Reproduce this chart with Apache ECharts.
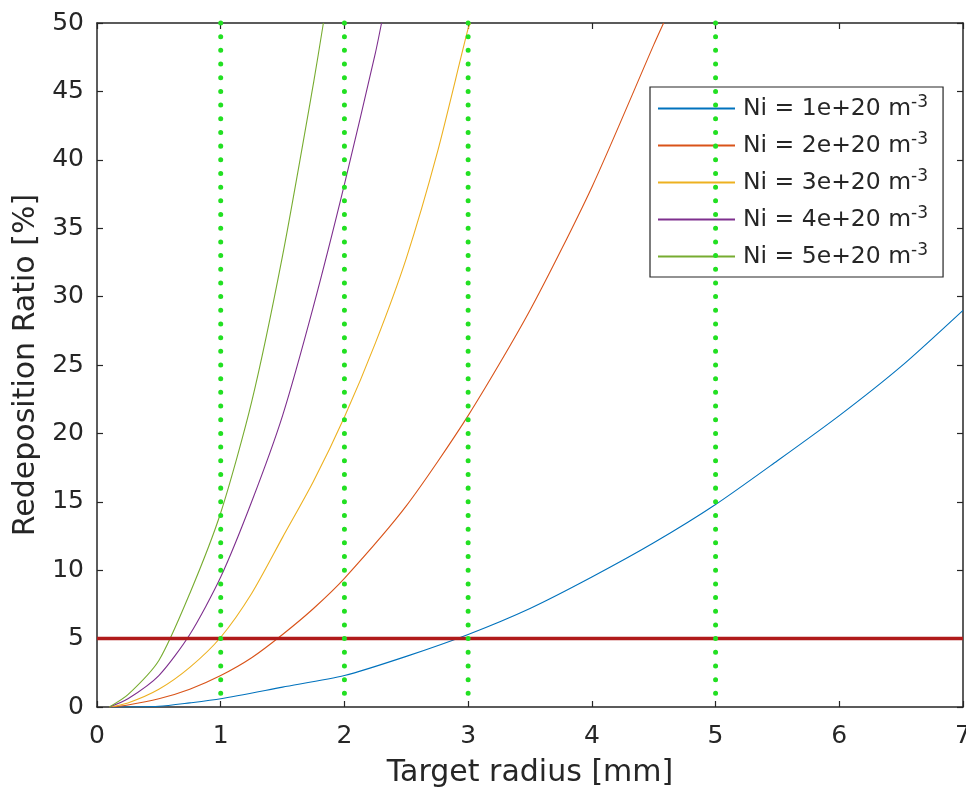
<!DOCTYPE html>
<html>
<head>
<meta charset="utf-8">
<script src="https://cdn.jsdelivr.net/npm/echarts@6/dist/echarts.min.js"></script>
<style>
  html, body { margin: 0; padding: 0; background: #ffffff; }
  #chart { width: 966px; height: 792px; }
</style>
</head>
<body>
<div id="chart"></div>
<script>
// Ion density labels for each curve (m^-3)
const densityLabels = ['1e+20', '2e+20', '3e+20', '4e+20', '5e+20'];

// Redeposition ratio [%] versus target radius [mm], one list per density
const ratioNi1 = [[0.1, 0], [0.5, 0.05], [0.75, 0.3], [1, 0.6], [1.5, 1.45], [2, 2.3], [2.5, 3.7], [3, 5.3], [3.5, 7.2], [4, 9.5], [4.5, 12.0], [5, 14.8], [5.5, 18.0], [6, 21.3], [6.5, 24.9], [7, 29.0]];
const ratioNi2 = [[0.1, 0], [0.25, 0.15], [0.5, 0.6], [0.75, 1.3], [1, 2.3], [1.25, 3.6], [1.5, 5.3], [1.75, 7.2], [2, 9.4], [2.5, 14.7], [3, 21.3], [3.5, 29.0], [4, 38.0], [4.5, 48.4], [4.58, 50]];
const ratioNi3 = [[0.1, 0], [0.25, 0.3], [0.5, 1.3], [0.75, 2.9], [1, 5.1], [1.25, 8.3], [1.5, 12.4], [1.75, 16.5], [2, 21.2], [2.25, 26.6], [2.5, 32.8], [2.75, 40.5], [3, 49.6], [3.02, 50]];
const ratioNi4 = [[0.1, 0], [0.25, 0.6], [0.5, 2.3], [0.75, 5.3], [1, 9.5], [1.25, 15.0], [1.5, 21.3], [1.75, 29.3], [2, 38.2], [2.25, 47.8], [2.3, 50]];
const ratioNi5 = [[0.1, 0], [0.25, 0.9], [0.5, 3.4], [0.75, 8.3], [1, 14.2], [1.25, 22.3], [1.5, 33.0], [1.75, 45.6], [1.83, 50]];
const curveData = [ratioNi1, ratioNi2, ratioNi3, ratioNi4, ratioNi5];

// 5 % threshold and the marked target radii [mm]
const thresholdRatio = 5;
const markedRadii = [1, 2, 3, 5];

// Axis ranges
const radiusRange = [0, 7];
const ratioRange = [0, 50];

const FONT = 'DejaVu Sans';
const INK = '#262626';
const curveColors = ['#0072BD', '#D95319', '#EDB120', '#7E2F8E', '#77AC30'];

const seriesName = d => 'Ni = ' + d;

const series = [];
curveData.forEach((pts, i) => {
  series.push({
    name: seriesName(densityLabels[i]),
    type: 'line',
    data: pts,
    symbol: 'none',
    smooth: 0.25,
    lineStyle: { color: curveColors[i], width: 1.1 },
    itemStyle: { color: curveColors[i] },
    z: 2,
    animation: false
  });
});

series.push({
  name: 'threshold',
  type: 'line',
  data: [[radiusRange[0], thresholdRatio], [radiusRange[1], thresholdRatio]],
  symbol: 'none',
  lineStyle: { color: '#b01a1a', width: 3.5 },
  z: 3,
  animation: false
});

// Dotted verticals: one dot per unit of ratio, from the top down
const plotHeight = 684;
const dotPitch = plotHeight / (ratioRange[1] - ratioRange[0]);
markedRadii.forEach(r => {
  series.push({
    name: 'radius ' + r,
    type: 'line',
    data: [[r, ratioRange[1]], [r, 1]],
    symbol: 'none',
    clip: false,
    lineStyle: { color: '#22e022', width: 5, type: [0.01, dotPitch - 0.01], cap: 'round' },
    z: 4,
    animation: false
  });
});

const chart = echarts.init(document.getElementById('chart'), null, { renderer: 'canvas' });

const baseAxis = {
  type: 'value',
  axisLine: { show: true, onZero: false, lineStyle: { color: INK, width: 1.5 } },
  axisTick: { show: true, inside: true, length: 6, lineStyle: { color: INK, width: 1.2 } },
  splitLine: { show: false },
  minorTick: { show: false }
};

chart.setOption({
  animation: false,
  backgroundColor: '#ffffff',
  grid: { left: 97, right: 3, top: 23, bottom: 85, containLabel: false, outerBoundsMode: 'none' },
  xAxis: [
    Object.assign({}, baseAxis, {
      position: 'bottom',
      min: radiusRange[0], max: radiusRange[1], interval: 1,
      axisLabel: { show: true, margin: 17, color: INK, fontFamily: FONT, fontSize: 25 },
      name: 'Target radius [mm]',
      nameLocation: 'middle',
      nameGap: 51,
      nameTextStyle: { color: INK, fontFamily: FONT, fontSize: 30 }
    }),
    Object.assign({}, baseAxis, {
      position: 'top',
      min: radiusRange[0], max: radiusRange[1], interval: 1,
      axisLabel: { show: false }
    })
  ],
  yAxis: [
    Object.assign({}, baseAxis, {
      position: 'left',
      min: ratioRange[0], max: ratioRange[1], interval: 5,
      axisLabel: { show: true, margin: 13, color: INK, fontFamily: FONT, fontSize: 25 },
      name: 'Redeposition Ratio [%]',
      nameLocation: 'middle',
      nameGap: 56,
      nameTextStyle: { color: INK, fontFamily: FONT, fontSize: 30 }
    }),
    Object.assign({}, baseAxis, {
      position: 'right',
      min: ratioRange[0], max: ratioRange[1], interval: 5,
      axisLabel: { show: false }
    })
  ],
  legend: {
    data: densityLabels.map(seriesName),
    orient: 'vertical',
    left: 650,
    top: 87,
    itemWidth: 77,
    itemHeight: 10,
    itemGap: 8,
    padding: [7, 15, 6, 7],
    backgroundColor: '#ffffff',
    borderColor: INK,
    borderWidth: 1.2,
    borderRadius: 0,
    itemStyle: { color: 'rgba(0,0,0,0)', borderWidth: 0, opacity: 0 },
    formatter: name => name + ' m{sup|-3}',
    textStyle: {
      fontFamily: FONT,
      fontSize: 23.5,
      color: INK,
      lineHeight: 29,
      padding: [0, 0, 0, 3],
      rich: {
        sup: { fontFamily: FONT, fontSize: 17, color: INK, verticalAlign: 'top', lineHeight: 17 }
      }
    }
  },
  series: series
});
</script>
</body>
</html>
